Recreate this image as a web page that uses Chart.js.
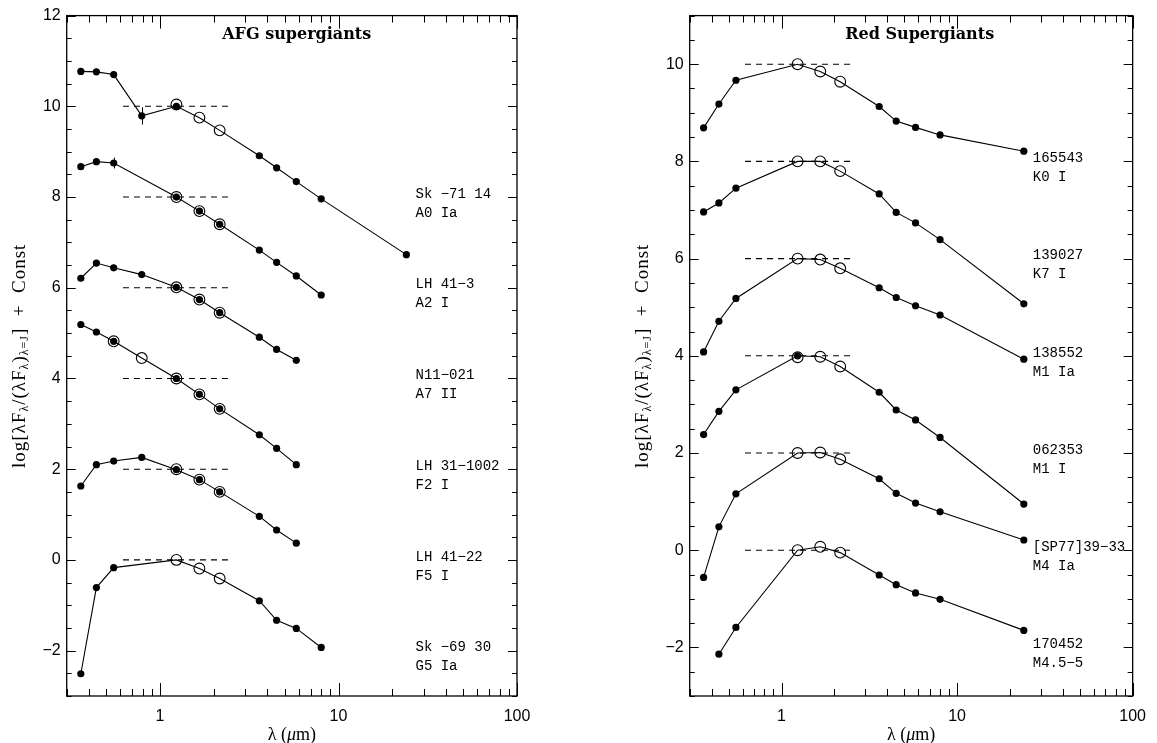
<!DOCTYPE html>
<html><head><meta charset="utf-8">
<script src="https://cdn.jsdelivr.net/npm/chart.js@4.4.0/dist/chart.umd.min.js"></script>
<style>
html,body{margin:0;padding:0;background:#fff;width:1157px;height:743px;overflow:hidden}
#wl{position:absolute;left:0;top:0;width:580px;height:743px}
#wr{position:absolute;left:580px;top:0;width:577px;height:743px}
</style></head><body>
<div id="wl"><canvas id="cl"></canvas></div>
<div id="wr"><canvas id="cr"></canvas></div>
<script>
// ---------- DATA ----------
const lambdaAFG = [0.36, 0.44, 0.55, 0.79, 1.235, 1.662, 2.159, 3.6, 4.5, 5.8, 8.0, 24];
const lambdaRSG = [0.36, 0.44, 0.55, 1.235, 1.662, 2.159, 3.6, 4.5, 5.8, 8.0, 24];

// AFG supergiants: filled (optical / IRAC / MIPS) and open (2MASS) points
const sk7114_f   = [10.77, 10.76, 10.70, 9.79, 10.00, null, null, 8.91, 8.645, 8.34, 7.96, 6.73];
const sk7114_o   = [null, null, null, null, 10.04, 9.75, 9.47, null, null, null, null, null];
const lh413_f    = [8.67, 8.78, 8.75, null, 8.00, 7.69, 7.40, 6.83, 6.56, 6.26, 5.84, null];
const lh413_o    = [null, null, null, null, 8.00, 7.69, 7.40, null, null, null, null, null];
const n11021_f   = [6.21, 6.545, 6.44, 6.29, 6.01, 5.74, 5.45, 4.91, 4.64, 4.40, null, null];
const n11021_o   = [null, null, null, null, 6.01, 5.74, 5.45, null, null, null, null, null];
const lh311002_f = [5.19, 5.025, 4.82, null, 4.00, 3.65, 3.33, 2.76, 2.46, 2.10, null, null];
const lh311002_o = [null, null, 4.82, 4.45, 4.00, 3.65, 3.33, null, null, null, null, null];
const lh4122_f   = [1.63, 2.10, 2.18, 2.26, 1.99, 1.77, 1.50, 0.96, 0.66, 0.37, null, null];
const lh4122_o   = [null, null, null, null, 2.00, 1.77, 1.50, null, null, null, null, null];
const sk6930_f   = [-2.51, -0.61, -0.17, null, null, null, null, -0.90, -1.33, -1.51, -1.93, null];
const sk6930_o   = [null, null, null, null, 0.00, -0.19, -0.41, null, null, null, null, null];
// error bars (index into lambdaAFG, half-size)
const sk7114_err = [null, null, null, 0.19, null, null, null, null, null, null, null, null];
const lh413_err  = [null, null, 0.12, null, null, null, null, null, null, null, null, null];

// Red supergiants
const s165543_f = [8.69, 9.18, 9.67, null, null, null, 9.13, 8.83, 8.70, 8.545, 8.21];
const s165543_o = [null, null, null, 10.00, 9.85, 9.64, null, null, null, null, null];
const s139027_f = [6.96, 7.145, 7.45, null, null, null, 7.33, 6.95, 6.735, 6.39, 5.07];
const s139027_o = [null, null, null, 8.00, 8.00, 7.80, null, null, null, null, null];
const s138552_f = [4.08, 4.71, 5.18, null, null, null, 5.40, 5.20, 5.03, 4.84, 3.93];
const s138552_o = [null, null, null, 6.00, 5.98, 5.80, null, null, null, null, null];
const s062353_f = [2.38, 2.857, 3.30, 4.00, null, null, 3.25, 2.885, 2.68, 2.32, 0.95];
const s062353_o = [null, null, null, 3.97, 3.98, 3.78, null, null, null, null, null];
const sp773933_f = [-0.56, 0.48, 1.16, null, null, null, 1.47, 1.17, 0.97, 0.79, 0.21];
const sp773933_o = [null, null, null, 2.00, 2.01, 1.87, null, null, null, null, null];
const s170452_f = [null, -2.14, -1.59, null, null, null, -0.51, -0.71, -0.88, -1.01, -1.65];
const s170452_o = [null, null, null, 0.00, 0.07, -0.05, null, null, null, null, null];

const normLevelsAFG = [10, 8, 6, 4, 2, 0];
const normLevelsRSG = [10, 8, 6, 4, 2, 0];
const dashRange = [0.62, 2.47];

const namesAFG = ["Sk \u221271 14", "LH 41\u22123", "N11\u2212021", "LH 31\u22121002", "LH 41\u221222", "Sk \u221269 30"];
const typesAFG = ["A0 Ia", "A2 I", "A7 II", "F2 I", "F5 I", "G5 Ia"];
const namesRSG = ["165543", "139027", "138552", "062353", "[SP77]39\u221233", "170452"];
const typesRSG = ["K0 I", "K7 I", "M1 Ia", "M1 I", "M4 Ia", "M4.5\u22125"];
const labelLevels = [8, 6, 4, 2, 0, -2];
const labelLambda = 27;

const xTickVals = [1, 10, 100];
const yTicksAFG = [-2, 0, 2, 4, 6, 8, 10, 12];
const yTicksRSG = [-2, 0, 2, 4, 6, 8, 10];

const starsAFG = [[sk7114_f, sk7114_o, sk7114_err], [lh413_f, lh413_o, lh413_err], [n11021_f, n11021_o, null],
                  [lh311002_f, lh311002_o, null], [lh4122_f, lh4122_o, null], [sk6930_f, sk6930_o, null]];
const starsRSG = [[s165543_f, s165543_o, null], [s139027_f, s139027_o, null], [s138552_f, s138552_o, null],
                  [s062353_f, s062353_o, null], [sp773933_f, sp773933_o, null], [s170452_f, s170452_o, null]];

// ---------- BUILD ----------
function pts(lam, arr) {
  const out = [];
  lam.forEach((x, i) => { if (arr[i] !== null && arr[i] !== undefined) out.push({x: x, y: arr[i]}); });
  return out;
}
function buildDatasets(lam, stars, levels) {
  const ds = [];
  stars.forEach((s, k) => {
    const f = s[0], o = s[1];
    const merged = f.map((v, i) => (v !== null ? v : o[i]));
    ds.push({data: [{x: dashRange[0], y: levels[k]}, {x: dashRange[1], y: levels[k]}], showLine: true,
             borderColor: '#000', borderWidth: 1.1, borderDash: [6, 5], pointRadius: 0});
    ds.push({data: pts(lam, merged), showLine: true, borderColor: '#000', borderWidth: 1.1, pointRadius: 0});
    ds.push({data: pts(lam, o), showLine: false, pointRadius: 5.4, pointBorderWidth: 1.1,
             pointBorderColor: '#000', pointBackgroundColor: 'rgba(0,0,0,0)'});
    ds.push({data: pts(lam, f), showLine: false, pointRadius: 3.6, pointBorderWidth: 0,
             pointBackgroundColor: '#000', pointBorderColor: '#000'});
  });
  return ds;
}

const tickFont = {family: "'Liberation Sans', Arial, sans-serif", size: 16};
const fmtY = v => (v < 0 ? '\u2212' + Math.abs(v) : String(v));

function framePlugin(cfg) {
  return {
    id: 'frame',
    afterDatasetsDraw(chart) {
      const ctx = chart.ctx, a = chart.chartArea;
      const xs = chart.scales.x, ys = chart.scales.y;
      ctx.save();
      ctx.strokeStyle = '#000'; ctx.lineWidth = 1.3;
      ctx.strokeRect(a.left, a.top, a.right - a.left, a.bottom - a.top);
      ctx.lineWidth = 1;
      ctx.beginPath();
      for (let e = -1; e <= 2; e++) {
        for (let m = 1; m <= 9; m++) {
          const v = m * Math.pow(10, e);
          if (v < xs.min - 1e-9 || v > xs.max + 1e-9) continue;
          const px = Math.round(xs.getPixelForValue(v)) + 0.5;
          const len = m === 1 ? 13 : 7;
          ctx.moveTo(px, a.bottom); ctx.lineTo(px, a.bottom - len);
          ctx.moveTo(px, a.top); ctx.lineTo(px, a.top + len);
        }
      }
      for (let v = ys.min; v <= ys.max + 1e-9; v += 0.5) {
        const py = Math.round(ys.getPixelForValue(v)) + 0.5;
        const len = (Math.abs(v % 2) < 1e-9) ? 9 : 5;
        ctx.moveTo(a.left, py); ctx.lineTo(a.left + len, py);
        ctx.moveTo(a.right, py); ctx.lineTo(a.right - len, py);
      }
      ctx.stroke();

      // error bars
      ctx.beginPath();
      cfg.stars.forEach(s => {
        const err = s[2]; if (!err) return;
        err.forEach((e, i) => {
          if (e === null) return;
          const y0 = s[0][i];
          const px = Math.round(xs.getPixelForValue(cfg.lam[i])) + 0.5;
          ctx.moveTo(px, ys.getPixelForValue(y0 + e)); ctx.lineTo(px, ys.getPixelForValue(y0 - e));
        });
      });
      ctx.stroke();

      // star labels
      ctx.fillStyle = '#000';
      ctx.font = "14px 'Liberation Mono', 'DejaVu Sans Mono', monospace";
      ctx.textAlign = 'left'; ctx.textBaseline = 'middle';
      const lx = xs.getPixelForValue(labelLambda);
      cfg.names.forEach((n, k) => {
        const py = ys.getPixelForValue(labelLevels[k]) - 3;
        ctx.fillText(n, lx, py);
        ctx.fillText(cfg.types[k], lx, py + 19);
      });

      // panel title
      ctx.font = "bold 16px 'DejaVu Serif', 'Liberation Serif', serif";
      ctx.textAlign = 'center';
      ctx.fillText(cfg.title, a.left + 230, a.top + 19);

      // x-axis title
      const cx = (a.left + a.right) / 2, cy = 735;
      const serif = "'Liberation Serif', 'DejaVu Serif', serif";
      const p1 = "\u03bb (", p3 = "m)";
      ctx.font = "18px " + serif; const w1 = ctx.measureText(p1).width, w3 = ctx.measureText(p3).width;
      ctx.font = "italic 18px " + serif; const w2 = ctx.measureText("\u03bc").width;
      let x0 = cx - (w1 + w2 + w3) / 2;
      ctx.textAlign = 'left';
      ctx.font = "18px " + serif; ctx.fillText(p1, x0, cy);
      ctx.font = "italic 18px " + serif; ctx.fillText("\u03bc", x0 + w1, cy);
      ctx.font = "18px " + serif; ctx.fillText(p3, x0 + w1 + w2, cy);

      // y-axis title with subscripts
      const parts = [["log[", 0], ["\u03bbF", 0], ["\u03bb", 1], ["/(", 0], ["\u03bbF", 0], ["\u03bb", 1], [")", 0], ["\u03bb=J", 1], ["]  +  Const", 0]];
      const big = "19px " + serif, small = "12px " + serif;
      ctx.letterSpacing = '1px';
      let tot = 0;
      parts.forEach(p => { ctx.font = p[1] ? small : big; p.w = ctx.measureText(p[0]).width; tot += p.w; });
      ctx.save();
      ctx.translate(a.left - 47, (a.top + a.bottom) / 2);
      ctx.rotate(-Math.PI / 2);
      let x = -tot / 2;
      parts.forEach(p => {
        ctx.font = p[1] ? small : big;
        ctx.fillText(p[0], x, p[1] ? 5 : 0);
        x += p.w;
      });
      ctx.restore();
      ctx.letterSpacing = '0px';
      ctx.restore();
    }
  };
}

function makeChart(id, lam, stars, levels, yMin, yMax, yTicks, yW, pad, names, types, title) {
  return new Chart(document.getElementById(id), {
    type: 'scatter',
    data: {datasets: buildDatasets(lam, stars, levels)},
    options: {
      responsive: true, maintainAspectRatio: false, animation: false, devicePixelRatio: 1,
      layout: {padding: pad, autoPadding: false},
      plugins: {legend: {display: false}, tooltip: {enabled: false}, title: {display: false}},
      scales: {
        x: {type: 'logarithmic', min: 0.3, max: 100,
            grid: {display: false, drawTicks: false}, border: {display: false},
            ticks: {font: tickFont, color: '#000', padding: 11, maxRotation: 0, autoSkip: false,
                    callback: v => String(v)},
            afterBuildTicks: s => { s.ticks = xTickVals.map(v => ({value: v})); },
            afterFit: s => { s.height = 47; }},
        y: {type: 'linear', min: yMin, max: yMax,
            grid: {display: false, drawTicks: false}, border: {display: false},
            ticks: {font: tickFont, color: '#000', padding: 6, callback: fmtY},
            afterBuildTicks: s => { s.ticks = yTicks.map(v => ({value: v})); },
            afterFit: s => { s.width = yW; }}
      }
    },
    plugins: [framePlugin({lam: lam, stars: stars, names: names, types: types, title: title})]
  });
}

makeChart('cl', lambdaAFG, starsAFG, normLevelsAFG, -3, 12, yTicksAFG, 66.7,
          {left: 0, right: 63, top: 14, bottom: 0}, namesAFG, typesAFG, "AFG supergiants");
makeChart('cr', lambdaRSG, starsRSG, normLevelsRSG, -3, 11, yTicksRSG, 109.7,
          {left: 0, right: 17, top: 14, bottom: 0}, namesRSG, typesRSG, "Red Supergiants");
</script>
</body></html>
